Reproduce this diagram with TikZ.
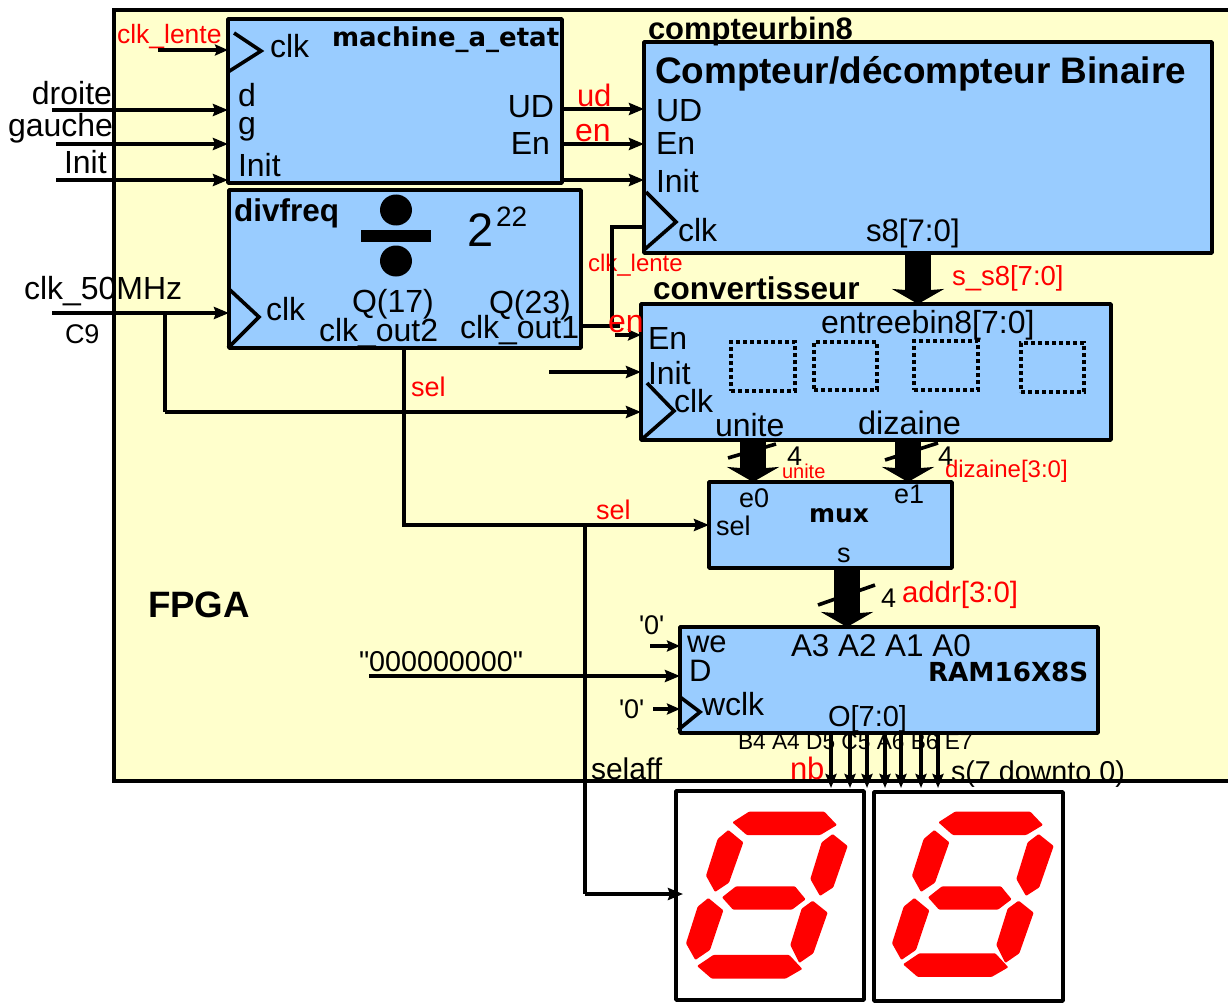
\documentclass[tikz,border=0pt]{standalone}
\usepackage{fontspec}
\setmainfont{Liberation Sans}
\newfontfamily\djb{DejaVu Sans}[BoldFont={DejaVu Sans Bold}]
\font\qfa="Liberation Sans" at 27pt
\font\qfb="Liberation Sans" at 28.7pt
\usetikzlibrary{arrows.meta}
\definecolor{fpgay}{HTML}{FFFFCC}
\definecolor{blk}{HTML}{99CCFF}
\newcommand{\fs}[1]{\fontsize{#1}{#1}\selectfont}
\newcommand{\lab}[6][base west]{\node[lbl,anchor=#1] (#2) at (#3,#4) {#5#6};}
\newcommand{\digit}[3]{%
\begin{scope}[shift={(#1,#2)},x=0.3333pt,y=-0.3333pt]
\fill[segm] (217,127)--(267,95)--(493,95)--(531,135)--(481,165)--(260,165)--cycle;
\fill[segm] (205,150)--(250,187)--(207,308)--(165,336)--(138,287)--(173,177)--cycle;
\fill[segm] (518,162)--(563,198)--(520,322)--(480,348)--(451,297)--(485,187)--cycle;
\fill[segm] (186,352)--(228,319)--(405,319)--(437,358)--(396,389)--(219,389)--cycle;
\fill[segm] (145,354)--(190,391)--(150,510)--(106,540)--(78,490)--(113,380)--cycle;
\fill[segm] (458,362)--(503,398)--(460,520)--(418,549)--(391,495)--(425,386)--cycle;
\fill[segm,yshift=#3] (111,558)--(160,525)--(388,525)--(427,567)--(377,596)--(155,596)--cycle;
\end{scope}}
\tikzset{
  x=1pt,y=-1pt,
  lbl/.style={inner sep=0pt,outer sep=0pt,text=black},
  box/.style={draw=black,line width=3.5pt,fill=blk,anchor=north west,inner sep=0pt,outer sep=0pt,line join=round},
  disp/.style={draw=black,line width=3.5pt,fill=white,anchor=north west,inner sep=0pt,outer sep=0pt,line join=round},
  dotbox/.style={draw=black,line width=3.6pt,dash pattern=on 3.6pt off 3.4pt,anchor=north west,inner sep=0pt,outer sep=0pt},
  wire/.style={line width=3.6pt,draw=black},
  arr/.style={wire,-{Stealth[length=15pt,width=12pt,inset=2pt]}},
  smallarr/.style={line width=3.4pt,draw=black,-{Stealth[length=13pt,width=11pt,inset=2pt]}},
  bus/.style={draw=black,line width=26pt,-{Stealth[length=15pt,width=52pt,inset=2pt]}},
  clkmark/.style={line width=3.6pt,draw=black},
  segm/.style={fill=red,rounded corners=1pt},
}
\begin{document}
\begin{tikzpicture}
\useasboundingbox (0,0) rectangle (1228,1003);
% FPGA
\fill[fpgay] (1228,10) -- (114,10) -- (114,781) -- (1228,781) -- cycle;
\draw[line width=3.6pt] (1228,10) -- (114,10) -- (114,781) -- (1228,781);
% blocks
\node[box,minimum width=334pt,minimum height=164pt] (mach) at (228,19) {};
\node[box,minimum width=352pt,minimum height=158pt] (divf) at (229,190) {};
\node[box,minimum width=568pt,minimum height=211pt] (cpt) at (644,42) {};
\node[box,minimum width=470pt,minimum height=136pt] (conv) at (641,304) {};
\node[box,minimum width=243pt,minimum height=86pt] (mux) at (709,482) {};
\node[box,minimum width=418pt,minimum height=106pt] (ram) at (680,627) {};
\node[disp,minimum width=188pt,minimum height=209pt] (d1) at (676,791) {};
\node[disp,minimum width=189pt,minimum height=209pt] (d2) at (874,792) {};
% dotted
\node[dotbox,minimum width=64pt,minimum height=49pt] (dd1) at (731,342) {};
\node[dotbox,minimum width=63pt,minimum height=48pt] (dd2) at (814,342) {};
\node[dotbox,minimum width=64pt,minimum height=49pt] (dd3) at (914,341) {};
\node[dotbox,minimum width=63pt,minimum height=49pt] (dd4) at (1021,343) {};
% clock marks
\draw[clkmark] (234,33)--(261,51)--(228,72);
\draw[clkmark] (230,290)--(259,317)--(228,348);
\draw[clkmark] (646,192)--(676,222)--(644,250);
\draw[clkmark] (647,383)--(674,411)--(641,440);
\draw[clkmark] (680,697)--(700,712)--(678,730);
% divide sign
\fill (396,210) ellipse [x radius=16,y radius=15.5];
\fill (396,261) ellipse [x radius=16,y radius=15.5];
\fill (361,230) rectangle (431,242);
% labels
\lab{t1}{117}{44}{\fs{26.5}\color{red}}{clk\_lente}
\lab{t2}{270}{58}{\fs{32}}{clk}
\lab{t3}{332}{47}{\djb\bfseries\fs{26}}{machine\_a\_etat}
\lab{t4}{238}{107}{\fs{32}}{d}
\lab{t5}{238}{135}{\fs{32}}{g}
\lab{t6}{238}{177}{\fs{32}}{Init}
\lab[base east]{t7}{554}{118}{\fs{32}}{UD}
\lab[base east]{t8}{550}{155}{\fs{32}}{En}
\lab[base east]{t9}{112}{105}{\fs{32}}{droite}
\lab[base east]{t10}{113}{137}{\fs{32}}{gauche}
\lab{t11}{64}{174}{\fs{32}}{Init}
\lab{t12}{577}{107}{\fs{31}\color{red}}{ud}
\lab{t13}{575}{142}{\fs{32}\color{red}}{en}
\lab{t14}{234}{221}{\bfseries\fs{31.5}}{divfreq}
\lab{t15}{467}{246}{\fs{47}}{2}
\lab{t16}{496}{226}{\fs{28}}{22}
\lab{t17}{266}{320}{\fs{32}}{clk}
\lab{t18}{352}{312}{\fs{32}}{Q(17)}
\lab{t19}{319}{341}{\fs{32}}{clk\_out2}
\lab{t20}{489}{313}{\fs{32}}{Q(23)}
\lab{t21}{460}{338}{\fs{32}}{clk\_out1}
\lab{t22}{24}{299}{\fs{32}}{clk\_50MHz}
\lab{t23}{65}{343}{\fs{27}}{C9}
\lab{t24}{648}{40}{\bfseries\fs{31}}{compteurbin8}
\lab{t25}{655}{84}{\bfseries\fs{36.9}}{Compteur/décompteur Binaire}
\lab{t26}{656}{122}{\fs{32}}{UD}
\lab{t27}{656}{155}{\fs{32}}{En}
\lab{t28}{656}{193}{\fs{32}}{Init}
\lab{t29}{678}{241}{\fs{32}}{clk}
\lab{t30}{866}{241}{\fs{31.2}}{s8[7:0]}
\lab{t31}{588}{271}{\fs{24}\color{red}}{clk\_lente}
\lab{t32}{952}{285}{\fs{27.5}\color{red}}{s\_s8[7:0]}
\lab{t33}{653}{299}{\bfseries\fs{31.5}}{convertisseur}
\lab{t34}{821}{333}{\fs{32}}{entreebin8[7:0]}
\lab{t35}{648}{349}{\fs{32}}{En}
\lab{t36}{648}{384}{\fs{32}}{Init}
\lab{t37}{674}{412}{\fs{32}}{clk}
\lab{t38}{715}{436}{\fs{32}}{unite}
\lab{t39}{858}{434}{\fs{32.5}}{dizaine}
\lab{t40}{787}{465}{\fs{27}}{4}
\lab{t41}{938}{465}{\fs{27}}{4}
\lab{t42}{782}{478}{\fs{20}\color{red}}{unite}
\lab{t43}{945}{477}{\fs{24}\color{red}}{dizaine[3:0]}
\lab{t44}{739}{507}{\fs{27}}{e0}
\lab{t45}{894}{503}{\fs{27}}{e1}
\lab{t46}{809}{522}{\djb\bfseries\fs{25}}{mux}
\lab{t47}{716}{535}{\fs{27}}{sel}
\lab{t48}{837}{562}{\fs{27}}{s}
\lab{t49}{411}{396}{\fs{27}\color{red}}{sel}
\lab{t50}{596}{519}{\fs{27}\color{red}}{sel}
\lab{t51}{148}{617}{\bfseries\fs{36.7}}{FPGA}
\lab{t52}{881}{607}{\fs{27}}{4}
\lab{t53}{902}{602}{\fs{29.4}\color{red}}{addr[3:0]}
\lab{t54}{639}{634}{\qfa}{'0'}
\lab{t55}{687}{652}{\fs{31}}{we}
\lab{t56}{689}{681}{\fs{31}}{D}
\lab{t57}{619}{718}{\qfa}{'0'}
\lab{t58}{702}{715}{\fs{32}}{wclk}
\lab{t59}{359}{671}{\qfb}{"000000000"}
\lab{t60}{791}{656}{\fs{31.4}}{A3 A2 A1 A0}
\lab{t61}{928}{681}{\djb\bfseries\fs{26.2}}{RAM16X8S}
\lab{t62}{828}{726}{\fs{29}}{O[7:0]}
\lab{t63}{738}{749}{\fs{22.7}}{B4 A4 D5 C5 A6 B6 E7}
\lab{t64}{790}{779}{\fs{31}\color{red}}{nb}
\lab{t65}{951}{781}{\fs{28.7}}{s(7 downto 0)}
\lab{t66}{591}{779}{\fs{30}}{selaff}
% free ends
\coordinate (inclk) at (158,50);
\coordinate (indr) at (52,110);
\coordinate (inga) at (56,144);
\coordinate (inin) at (56,180);
\coordinate (in50) at (52,313);
\coordinate (j50) at (165,313);
\coordinate (j412) at (165,412);
\coordinate (machud) at (562,109);
\coordinate (machen) at (562,144);
\coordinate (machin) at (564,180);
\coordinate (q23) at (581,326);
\coordinate (q23j) at (612,326);
\coordinate (q23e) at (620,326);
\coordinate (ckl) at (612,227);
\coordinate (enin) at (615,335);
\coordinate (initc) at (549,372);
\coordinate (q17) at (404,348);
\coordinate (selj) at (404,525);
\coordinate (affj) at (585,525);
\coordinate (affc) at (585,894);
\coordinate (affe) at (683,894);
\coordinate (we0) at (650,646);
\coordinate (datain) at (369,676);
\coordinate (wc0) at (653,709);
% wires
\draw[smallarr] (inclk) -- (inclk -| mach.west);
\draw[arr] (indr) -- (indr -| mach.west);
\draw[arr] (inga) -- (inga -| mach.west);
\draw[arr] (inin) -- (inin -| mach.west);
\draw[arr] (in50) -- (in50 -| divf.west);
\draw[wire] (j50) -- (j412);
\draw[arr] (j412) -- (j412 -| conv.west);
\draw[arr] (machud) -- (machud -| cpt.west);
\draw[arr] (machen) -- (machen -| cpt.west);
\draw[arr] (machin) -- (machin -| cpt.west);
\draw[wire] (q23) -- (q23e);
\draw[wire] (q23j) -- (ckl) -- (ckl -| cpt.west);
\draw[smallarr] (enin) -- (enin -| conv.west);
\draw[arr] (initc) -- (initc -| conv.west);
\draw[wire] (q17) -- (selj) -- (affj);
\draw[arr] (affj) -- (affj -| mux.west);
\draw[wire] (affj) -- (affc);
\draw[arr] (affc) -- (affe);
\draw[smallarr] (we0) -- (we0 -| ram.west);
\draw[arr] (datain) -- (datain -| ram.west);
\draw[smallarr] (wc0) -- (wc0 -| ram.west);
% buses
\draw[wire] (728,458) -- (776,444);
\draw[wire] (885,460) -- (938,443);
\draw[wire] (818,605) -- (875,585);
\draw[bus] (cpt.south -| 918,0) -- (conv.north -| 918,0);
\draw[bus] (conv.south -| 753,0) -- (mux.north -| 753,0);
\draw[bus] (conv.south -| 908,0) -- (mux.north -| 908,0);
\draw[bus] (mux.south -| 847,0) -- (ram.north -| 847,0);
% RAM outputs
\foreach \xx in {831,850,867,885,901,921,938} {
  \coordinate (o\xx) at (\xx,733);
  \coordinate (p\xx) at (\xx,788);
  \draw[line width=3.4pt,-{Stealth[length=14pt,width=11pt,inset=2pt]}] (o\xx) -- (p\xx);
}
\lab{t67}{608}{332}{\fs{32}\color{red}}{en}
% digits
\digit{660}{780}{0pt}
\digit{866}{780}{1.7pt}
\end{tikzpicture}
\end{document}
